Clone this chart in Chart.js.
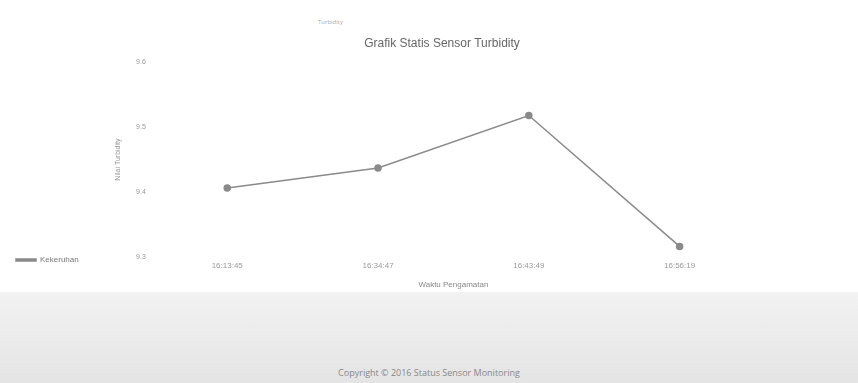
<!DOCTYPE html>
<html>
<head>
<meta charset="utf-8">
<script src="https://cdn.jsdelivr.net/npm/chart.js@4/dist/chart.umd.min.js"></script>
<style>
  body { margin: 0; width: 858px; height: 383px; background: #fff; font-family: "Open Sans", sans-serif; overflow: hidden; }
  #top { position: absolute; left: 318px; top: 18px; font-size: 6px; color: #aaa; }
  #wrap { position: absolute; left: 0; top: 10px; width: 858px; height: 282px; }
  #foot { position: absolute; left: 0; top: 292px; width: 858px; height: 91px;
          background: linear-gradient(#f2f2f2, #e4e4e4); }
  #foot p { position: absolute; width: 100%; top: 74px; margin: 0; text-align: center; font-size: 9px; color: #888; }
</style>
</head>
<body>
<div id="top">Turbidity</div>
<div id="wrap"><canvas id="myChart"></canvas></div>
<div id="foot"><p>Copyright &copy; 2016 Status Sensor Monitoring</p></div>
<script>
var waktu = ['16:13:45', '16:34:47', '16:43:49', '16:56:19'];
var kekeruhan = [9.406, 9.437, 9.518, 9.316];
var yTicks = [9.3, 9.4, 9.5, 9.6];

window.onload = function() {
    var ctx = document.getElementById('myChart').getContext('2d');
    var chart = new Chart(ctx, {
        type: 'line',
        data: {
            labels: waktu,
            datasets: [{
                label: 'Kekeruhan',
                data: kekeruhan,
                borderColor: '#8a8a8a',
                backgroundColor: '#8a8a8a',
                borderWidth: 1.5,
                pointRadius: 3,
                fill: false,
                tension: 0
            }]
        },
        options: {
            responsive: true,
            maintainAspectRatio: false,
            animation: false,
            layout: { padding: { top: 22, right: -38, left: -12, bottom: 0 } },
            plugins: {
                title: { display: true, text: 'Grafik Statis Sensor Turbidity', color: '#666', font: { size: 12, weight: 'normal' }, padding: { top: 4, bottom: 12 } },
                legend: {
                    position: 'left',
                    align: 'end',
                    labels: { color: '#777', font: { size: 8 }, boxWidth: 20, boxHeight: 2, padding: 28 }
                }
            },
            scales: {
                x: {
                    offset: true,
                    grid: { display: false, drawTicks: false },
                    border: { display: false },
                    ticks: { color: '#999', font: { size: 8 }, padding: 4 },
                    title: { display: true, text: 'Waktu Pengamatan', color: '#888', font: { size: 8 }, padding: { top: 6, bottom: 2 } }
                },
                y: {
                    min: 9.3,
                    max: 9.6,
                    afterBuildTicks: function(axis) { axis.ticks = yTicks.map(function(v) { return { value: v }; }); },
                    grid: { display: false, drawTicks: false },
                    border: { display: false },
                    ticks: { color: '#999', font: { size: 7 }, padding: 6, callback: function(v) { return v.toFixed(1); } },
                    title: { display: true, text: 'Nilai Turbidity', color: '#999', font: { size: 7 }, padding: { top: 25, bottom: 8 } }
                },
                // empty right-side spacer so the plot stays narrower than the title box
                spacer: {
                    position: 'right',
                    display: true,
                    grid: { display: false, drawTicks: false },
                    border: { display: false },
                    ticks: { display: false },
                    afterFit: function(axis) { axis.width = 141; }
                }
            }
        }
    });
};
</script>
</body>
</html>
